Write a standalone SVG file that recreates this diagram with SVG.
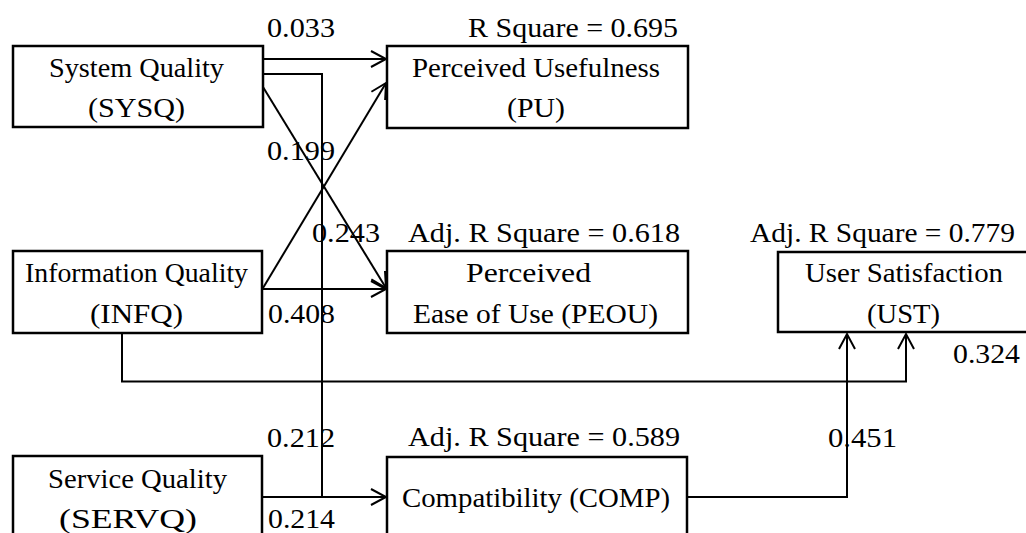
<svg xmlns="http://www.w3.org/2000/svg" width="1026" height="533" viewBox="0 0 1026 533">
<style>
text{font-family:'Liberation Serif','Times New Roman',Times,serif;font-size:28px;fill:#000}
.box{fill:#fff;stroke:#000;stroke-width:2.5}
.c{fill:none;stroke:#000;stroke-width:2}
</style>
<defs>
<marker id="ah" markerUnits="userSpaceOnUse" markerWidth="22" markerHeight="22" viewBox="-18 -11 22 22" refX="0" refY="0" orient="auto">
<path d="M-15,-8 L0,0 L-15,8" fill="none" stroke="#000" stroke-width="2"/>
</marker>
</defs>
<rect width="1026" height="533" fill="#fff"/>
<g id="connectors">
<path class="c" d="M263,59 H386" marker-end="url(#ah)"/>
<path class="c" d="M263,74 H322 V497"/>
<path class="c" d="M263,87 L386,288" marker-end="url(#ah)"/>
<path class="c" d="M263,288 L386,83" marker-end="url(#ah)"/>
<path class="c" d="M263,289 H386" marker-end="url(#ah)"/>
<path class="c" d="M122,333 V381.5 H906 V334" marker-end="url(#ah)"/>
<path class="c" d="M262,497 H386" marker-end="url(#ah)"/>
<path class="c" d="M687,497 H847 V334" marker-end="url(#ah)"/>
</g>
<g id="labels" font-family="Liberation Serif, Times New Roman, serif">
<text x="267" y="37" textLength="68" lengthAdjust="spacingAndGlyphs">0.033</text>
<text x="267" y="160" textLength="68" lengthAdjust="spacingAndGlyphs">0.199</text>
<text x="312" y="242" textLength="68" lengthAdjust="spacingAndGlyphs">0.243</text>
<text x="268" y="323" textLength="67" lengthAdjust="spacingAndGlyphs">0.408</text>
<text x="953" y="363" textLength="67" lengthAdjust="spacingAndGlyphs">0.324</text>
<text x="267" y="447" textLength="68" lengthAdjust="spacingAndGlyphs">0.212</text>
<text x="828" y="447" textLength="69" lengthAdjust="spacingAndGlyphs">0.451</text>
<text x="268" y="528" textLength="67" lengthAdjust="spacingAndGlyphs">0.214</text>
<text x="468" y="37" textLength="210" lengthAdjust="spacingAndGlyphs">R Square = 0.695</text>
<text x="408" y="242" textLength="272" lengthAdjust="spacingAndGlyphs">Adj. R Square = 0.618</text>
<text x="750" y="242" textLength="265" lengthAdjust="spacingAndGlyphs">Adj. R Square = 0.779</text>
<text x="408" y="446" textLength="272" lengthAdjust="spacingAndGlyphs">Adj. R Square = 0.589</text>
</g>
<g id="SYSQ">
<rect class="box" x="13" y="46" width="250" height="81"/>
<text x="49" y="77" textLength="175" lengthAdjust="spacingAndGlyphs">System Quality</text>
<text x="88" y="117" textLength="97" lengthAdjust="spacingAndGlyphs">(SYSQ)</text>
</g>
<g id="PU">
<rect class="box" x="387" y="46" width="301" height="82"/>
<text x="412" y="77" textLength="248" lengthAdjust="spacingAndGlyphs">Perceived Usefulness</text>
<text x="507" y="117" textLength="58" lengthAdjust="spacingAndGlyphs">(PU)</text>
</g>
<g id="INFQ">
<rect class="box" x="13" y="251" width="249" height="82"/>
<text x="25" y="282" textLength="223" lengthAdjust="spacingAndGlyphs">Information Quality</text>
<text x="90" y="323" textLength="93" lengthAdjust="spacingAndGlyphs">(INFQ)</text>
</g>
<g id="PEOU">
<rect class="box" x="387" y="251" width="301" height="82"/>
<text x="466" y="282" textLength="125" lengthAdjust="spacingAndGlyphs">Perceived</text>
<text x="413" y="323" textLength="245" lengthAdjust="spacingAndGlyphs">Ease of Use (PEOU)</text>
</g>
<g id="UST">
<rect class="box" x="778" y="252" width="252" height="80"/>
<text x="805" y="282" textLength="198" lengthAdjust="spacingAndGlyphs">User Satisfaction</text>
<text x="867" y="323" textLength="73" lengthAdjust="spacingAndGlyphs">(UST)</text>
</g>
<g id="SERVQ">
<rect class="box" x="13" y="456" width="249" height="90"/>
<text x="48" y="488" textLength="179" lengthAdjust="spacingAndGlyphs">Service Quality</text>
<text x="59" y="528" textLength="138" lengthAdjust="spacingAndGlyphs">(SERVQ)</text>
</g>
<g id="COMP">
<rect class="box" x="387" y="457" width="300" height="90"/>
<text x="402" y="507" textLength="268" lengthAdjust="spacingAndGlyphs">Compatibility (COMP)</text>
</g>
</svg>
